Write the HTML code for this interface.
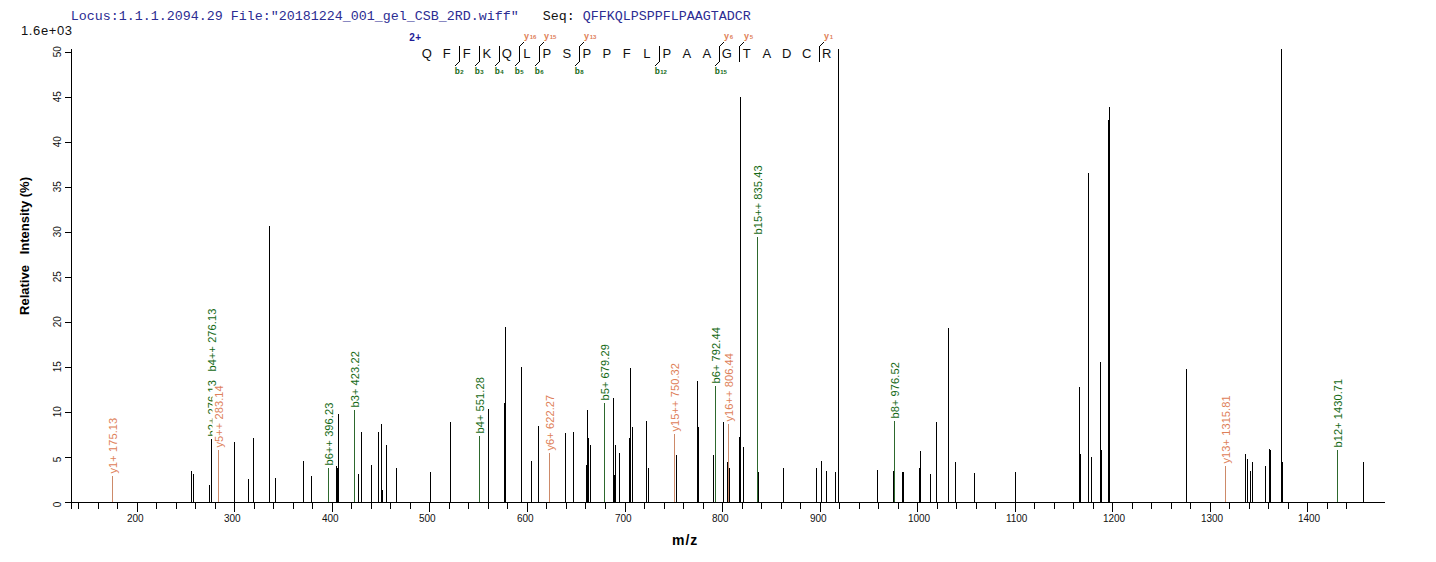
<!DOCTYPE html><html><head><meta charset="utf-8"><style>html,body{margin:0;padding:0;background:#fff;}svg{display:block;}text{font-family:"Liberation Sans",sans-serif;}</style></head><body>
<svg width="1436" height="562" viewBox="0 0 1436 562">
<rect x="0" y="0" width="1436" height="562" fill="#fff"/>
<text x="70.8" y="20" style="font-family:'Liberation Mono',monospace;font-size:13.33px" fill="rgb(44,44,146)" xml:space="preserve">Locus:1.1.1.2094.29 File:"20181224_001_gel_CSB_2RD.wiff"   <tspan fill="#111">Seq:</tspan> QFFKQLPSPPFLPAAGTADCR</text>
<text x="21" y="35" font-size="13" fill="#111" textLength="51" lengthAdjust="spacing">1.6e+03</text>
<g shape-rendering="crispEdges" fill="#000">
<rect x="71" y="49" width="1" height="460"/>
<rect x="65" y="502" width="1320" height="1"/>
<rect x="65" y="52" width="6" height="1"/>
<rect x="65" y="97" width="6" height="1"/>
<rect x="65" y="142" width="6" height="1"/>
<rect x="65" y="187" width="6" height="1"/>
<rect x="65" y="232" width="6" height="1"/>
<rect x="65" y="277" width="6" height="1"/>
<rect x="65" y="322" width="6" height="1"/>
<rect x="65" y="367" width="6" height="1"/>
<rect x="65" y="412" width="6" height="1"/>
<rect x="65" y="457" width="6" height="1"/>
<rect x="65" y="502" width="6" height="1"/>
<rect x="78" y="503" width="1" height="6"/>
<rect x="98" y="503" width="1" height="6"/>
<rect x="117" y="503" width="1" height="6"/>
<rect x="137" y="503" width="1" height="9"/>
<rect x="156" y="503" width="1" height="6"/>
<rect x="176" y="503" width="1" height="6"/>
<rect x="195" y="503" width="1" height="6"/>
<rect x="215" y="503" width="1" height="6"/>
<rect x="234" y="503" width="1" height="9"/>
<rect x="254" y="503" width="1" height="6"/>
<rect x="273" y="503" width="1" height="6"/>
<rect x="293" y="503" width="1" height="6"/>
<rect x="312" y="503" width="1" height="6"/>
<rect x="332" y="503" width="1" height="9"/>
<rect x="351" y="503" width="1" height="6"/>
<rect x="371" y="503" width="1" height="6"/>
<rect x="390" y="503" width="1" height="6"/>
<rect x="410" y="503" width="1" height="6"/>
<rect x="429" y="503" width="1" height="9"/>
<rect x="449" y="503" width="1" height="6"/>
<rect x="468" y="503" width="1" height="6"/>
<rect x="488" y="503" width="1" height="6"/>
<rect x="507" y="503" width="1" height="6"/>
<rect x="527" y="503" width="1" height="9"/>
<rect x="546" y="503" width="1" height="6"/>
<rect x="566" y="503" width="1" height="6"/>
<rect x="585" y="503" width="1" height="6"/>
<rect x="605" y="503" width="1" height="6"/>
<rect x="625" y="503" width="1" height="9"/>
<rect x="644" y="503" width="1" height="6"/>
<rect x="664" y="503" width="1" height="6"/>
<rect x="683" y="503" width="1" height="6"/>
<rect x="703" y="503" width="1" height="6"/>
<rect x="722" y="503" width="1" height="9"/>
<rect x="742" y="503" width="1" height="6"/>
<rect x="761" y="503" width="1" height="6"/>
<rect x="781" y="503" width="1" height="6"/>
<rect x="800" y="503" width="1" height="6"/>
<rect x="820" y="503" width="1" height="9"/>
<rect x="839" y="503" width="1" height="6"/>
<rect x="859" y="503" width="1" height="6"/>
<rect x="878" y="503" width="1" height="6"/>
<rect x="898" y="503" width="1" height="6"/>
<rect x="917" y="503" width="1" height="9"/>
<rect x="937" y="503" width="1" height="6"/>
<rect x="956" y="503" width="1" height="6"/>
<rect x="976" y="503" width="1" height="6"/>
<rect x="995" y="503" width="1" height="6"/>
<rect x="1015" y="503" width="1" height="9"/>
<rect x="1034" y="503" width="1" height="6"/>
<rect x="1054" y="503" width="1" height="6"/>
<rect x="1073" y="503" width="1" height="6"/>
<rect x="1093" y="503" width="1" height="6"/>
<rect x="1112" y="503" width="1" height="9"/>
<rect x="1132" y="503" width="1" height="6"/>
<rect x="1151" y="503" width="1" height="6"/>
<rect x="1171" y="503" width="1" height="6"/>
<rect x="1190" y="503" width="1" height="6"/>
<rect x="1210" y="503" width="1" height="9"/>
<rect x="1229" y="503" width="1" height="6"/>
<rect x="1249" y="503" width="1" height="6"/>
<rect x="1268" y="503" width="1" height="6"/>
<rect x="1288" y="503" width="1" height="6"/>
<rect x="1307" y="503" width="1" height="9"/>
<rect x="1327" y="503" width="1" height="6"/>
<rect x="1346" y="503" width="1" height="6"/>
</g>
<text transform="translate(61,57.2) rotate(-90)" font-size="10" fill="#111">50</text>
<text transform="translate(61,102.2) rotate(-90)" font-size="10" fill="#111">45</text>
<text transform="translate(61,147.2) rotate(-90)" font-size="10" fill="#111">40</text>
<text transform="translate(61,192.2) rotate(-90)" font-size="10" fill="#111">35</text>
<text transform="translate(61,237.2) rotate(-90)" font-size="10" fill="#111">30</text>
<text transform="translate(61,282.2) rotate(-90)" font-size="10" fill="#111">25</text>
<text transform="translate(61,327.2) rotate(-90)" font-size="10" fill="#111">20</text>
<text transform="translate(61,372.2) rotate(-90)" font-size="10" fill="#111">15</text>
<text transform="translate(61,417.2) rotate(-90)" font-size="10" fill="#111">10</text>
<text transform="translate(61,462.2) rotate(-90)" font-size="10" fill="#111">5</text>
<text transform="translate(61,507.2) rotate(-90)" font-size="10" fill="#111">0</text>
<text x="126.9" y="522" font-size="10" fill="#111">200</text>
<text x="223.9" y="522" font-size="10" fill="#111">300</text>
<text x="321.9" y="522" font-size="10" fill="#111">400</text>
<text x="418.9" y="522" font-size="10" fill="#111">500</text>
<text x="516.9" y="522" font-size="10" fill="#111">600</text>
<text x="614.9" y="522" font-size="10" fill="#111">700</text>
<text x="711.9" y="522" font-size="10" fill="#111">800</text>
<text x="809.9" y="522" font-size="10" fill="#111">900</text>
<text x="907.9" y="522" font-size="10" fill="#111">1000</text>
<text x="1005.9" y="522" font-size="10" fill="#111">1100</text>
<text x="1102.9" y="522" font-size="10" fill="#111">1200</text>
<text x="1200.9" y="522" font-size="10" fill="#111">1300</text>
<text x="1297.9" y="522" font-size="10" fill="#111">1400</text>
<text transform="translate(28.5,246) rotate(-90)" font-size="13" font-weight="bold" text-anchor="middle" fill="#000" xml:space="preserve">Relative   Intensity (%)</text>
<text x="672" y="545" font-size="14" font-weight="bold" letter-spacing="1" fill="#000">m/z</text>
<g shape-rendering="crispEdges">
<rect x="191" y="471" width="1" height="31" fill="#000"/>
<rect x="193" y="474" width="1" height="28" fill="#000"/>
<rect x="209" y="485" width="1" height="17" fill="#000"/>
<rect x="211" y="439" width="1" height="63" fill="#000"/>
<rect x="234" y="442" width="1" height="60" fill="#000"/>
<rect x="248" y="479" width="1" height="23" fill="#000"/>
<rect x="253" y="438" width="1" height="64" fill="#000"/>
<rect x="269" y="226" width="1" height="276" fill="#000"/>
<rect x="275" y="478" width="1" height="24" fill="#000"/>
<rect x="303" y="461" width="1" height="41" fill="#000"/>
<rect x="311" y="476" width="1" height="26" fill="#000"/>
<rect x="336" y="466" width="1" height="36" fill="#000"/>
<rect x="337" y="468" width="1" height="34" fill="#000"/>
<rect x="338" y="414" width="1" height="88" fill="#000"/>
<rect x="358" y="474" width="1" height="28" fill="#000"/>
<rect x="361" y="432" width="1" height="70" fill="#000"/>
<rect x="371" y="465" width="1" height="37" fill="#000"/>
<rect x="378" y="432" width="1" height="70" fill="#000"/>
<rect x="381" y="424" width="1" height="78" fill="#000"/>
<rect x="382" y="490" width="1" height="12" fill="#000"/>
<rect x="386" y="445" width="1" height="57" fill="#000"/>
<rect x="396" y="468" width="1" height="34" fill="#000"/>
<rect x="430" y="472" width="1" height="30" fill="#000"/>
<rect x="450" y="422" width="1" height="80" fill="#000"/>
<rect x="488" y="409" width="1" height="93" fill="#000"/>
<rect x="504" y="403" width="1" height="99" fill="#000"/>
<rect x="505" y="327" width="1" height="175" fill="#000"/>
<rect x="521" y="367" width="1" height="135" fill="#000"/>
<rect x="531" y="461" width="1" height="41" fill="#000"/>
<rect x="538" y="426" width="1" height="76" fill="#000"/>
<rect x="565" y="433" width="1" height="69" fill="#000"/>
<rect x="573" y="432" width="1" height="70" fill="#000"/>
<rect x="586" y="465" width="1" height="37" fill="#000"/>
<rect x="587" y="410" width="1" height="92" fill="#000"/>
<rect x="588" y="438" width="1" height="64" fill="#000"/>
<rect x="590" y="445" width="1" height="57" fill="#000"/>
<rect x="613" y="398" width="1" height="104" fill="#000"/>
<rect x="614" y="475" width="1" height="27" fill="#000"/>
<rect x="615" y="445" width="1" height="57" fill="#000"/>
<rect x="619" y="453" width="1" height="49" fill="#000"/>
<rect x="629" y="438" width="1" height="64" fill="#000"/>
<rect x="630" y="368" width="1" height="134" fill="#000"/>
<rect x="632" y="427" width="1" height="75" fill="#000"/>
<rect x="646" y="421" width="1" height="81" fill="#000"/>
<rect x="648" y="468" width="1" height="34" fill="#000"/>
<rect x="676" y="455" width="1" height="47" fill="#000"/>
<rect x="697" y="381" width="1" height="121" fill="#000"/>
<rect x="698" y="427" width="1" height="75" fill="#000"/>
<rect x="713" y="455" width="1" height="47" fill="#000"/>
<rect x="723" y="422" width="1" height="80" fill="#000"/>
<rect x="727" y="462" width="1" height="40" fill="#000"/>
<rect x="729" y="468" width="1" height="34" fill="#000"/>
<rect x="739" y="437" width="1" height="65" fill="#000"/>
<rect x="740" y="97" width="1" height="405" fill="#000"/>
<rect x="743" y="447" width="1" height="55" fill="#000"/>
<rect x="758" y="472" width="1" height="30" fill="#000"/>
<rect x="783" y="468" width="1" height="34" fill="#000"/>
<rect x="816" y="468" width="1" height="34" fill="#000"/>
<rect x="821" y="461" width="1" height="41" fill="#000"/>
<rect x="826" y="471" width="1" height="31" fill="#000"/>
<rect x="835" y="472" width="1" height="30" fill="#000"/>
<rect x="838" y="49" width="1" height="453" fill="#000"/>
<rect x="877" y="470" width="1" height="32" fill="#000"/>
<rect x="893" y="471" width="1" height="31" fill="#000"/>
<rect x="902" y="472" width="1" height="30" fill="#000"/>
<rect x="903" y="472" width="1" height="30" fill="#000"/>
<rect x="919" y="468" width="1" height="34" fill="#000"/>
<rect x="920" y="451" width="1" height="51" fill="#000"/>
<rect x="930" y="474" width="1" height="28" fill="#000"/>
<rect x="936" y="422" width="1" height="80" fill="#000"/>
<rect x="948" y="328" width="1" height="174" fill="#000"/>
<rect x="955" y="462" width="1" height="40" fill="#000"/>
<rect x="974" y="473" width="1" height="29" fill="#000"/>
<rect x="1015" y="472" width="1" height="30" fill="#000"/>
<rect x="1079" y="387" width="1" height="115" fill="#000"/>
<rect x="1080" y="454" width="1" height="48" fill="#000"/>
<rect x="1088" y="173" width="1" height="329" fill="#000"/>
<rect x="1091" y="457" width="1" height="45" fill="#000"/>
<rect x="1100" y="362" width="1" height="140" fill="#000"/>
<rect x="1101" y="450" width="1" height="52" fill="#000"/>
<rect x="1108" y="120" width="1" height="382" fill="#000"/>
<rect x="1109" y="107" width="1" height="395" fill="#000"/>
<rect x="1186" y="369" width="1" height="133" fill="#000"/>
<rect x="1245" y="454" width="1" height="48" fill="#000"/>
<rect x="1247" y="459" width="1" height="43" fill="#000"/>
<rect x="1250" y="471" width="1" height="31" fill="#000"/>
<rect x="1252" y="462" width="1" height="40" fill="#000"/>
<rect x="1265" y="466" width="1" height="36" fill="#000"/>
<rect x="1269" y="449" width="1" height="53" fill="#000"/>
<rect x="1270" y="450" width="1" height="52" fill="#000"/>
<rect x="1281" y="49" width="1" height="453" fill="#000"/>
<rect x="1282" y="462" width="1" height="40" fill="#000"/>
<rect x="1363" y="462" width="1" height="40" fill="#000"/>
<rect x="328" y="468" width="1" height="34" fill="rgb(45,104,45)"/>
<rect x="354" y="410" width="1" height="92" fill="rgb(45,104,45)"/>
<rect x="479" y="436" width="1" height="66" fill="rgb(45,104,45)"/>
<rect x="604" y="403" width="1" height="99" fill="rgb(45,104,45)"/>
<rect x="715" y="386" width="1" height="116" fill="rgb(45,104,45)"/>
<rect x="757" y="237" width="1" height="265" fill="rgb(45,104,45)"/>
<rect x="894" y="421" width="1" height="81" fill="rgb(45,104,45)"/>
<rect x="1337" y="450" width="1" height="52" fill="rgb(45,104,45)"/>
<rect x="112" y="476" width="1" height="26" fill="rgb(205,138,105)"/>
<rect x="218" y="450" width="1" height="52" fill="rgb(205,138,105)"/>
<rect x="549" y="453" width="1" height="49" fill="rgb(205,138,105)"/>
<rect x="674" y="434" width="1" height="68" fill="rgb(205,138,105)"/>
<rect x="728" y="424" width="1" height="78" fill="rgb(205,138,105)"/>
<rect x="1225" y="466" width="1" height="36" fill="rgb(205,138,105)"/>
</g>
<g transform="translate(116.5,473.5) rotate(-90)"><rect x="0" y="-10" width="54.7" height="12.3" fill="#fff"/><text x="0" y="0" font-size="11" letter-spacing="0.1" fill="rgb(222,128,88)" xml:space="preserve">y1+ 175.13</text></g>
<g transform="translate(215.5,436.5) rotate(-90)"><rect x="0" y="-10" width="55.4" height="12.3" fill="#fff"/><text x="0" y="0" font-size="11" letter-spacing="0.1" fill="rgb(20,105,20)" xml:space="preserve">b2+ 276.13</text></g>
<g transform="translate(215.5,371.5) rotate(-90)"><rect x="0" y="-10" width="61.8" height="12.3" fill="#fff"/><text x="0" y="0" font-size="11" letter-spacing="0.1" fill="rgb(20,105,20)" xml:space="preserve">b4++ 276.13</text></g>
<g transform="translate(222.5,447.5) rotate(-90)"><rect x="0" y="-10" width="61.2" height="12.3" fill="#fff"/><text x="0" y="0" font-size="11" letter-spacing="0.1" fill="rgb(222,128,88)" xml:space="preserve">y5++ 283.14</text></g>
<g transform="translate(332.5,465.5) rotate(-90)"><rect x="0" y="-10" width="61.8" height="12.3" fill="#fff"/><text x="0" y="0" font-size="11" letter-spacing="0.1" fill="rgb(20,105,20)" xml:space="preserve">b6++ 396.23</text></g>
<g transform="translate(358.5,407.5) rotate(-90)"><rect x="0" y="-10" width="55.4" height="12.3" fill="#fff"/><text x="0" y="0" font-size="11" letter-spacing="0.1" fill="rgb(20,105,20)" xml:space="preserve">b3+ 423.22</text></g>
<g transform="translate(483.5,433.5) rotate(-90)"><rect x="0" y="-10" width="55.4" height="12.3" fill="#fff"/><text x="0" y="0" font-size="11" letter-spacing="0.1" fill="rgb(20,105,20)" xml:space="preserve">b4+ 551.28</text></g>
<g transform="translate(553.5,450.5) rotate(-90)"><rect x="0" y="-10" width="54.7" height="12.3" fill="#fff"/><text x="0" y="0" font-size="11" letter-spacing="0.1" fill="rgb(222,128,88)" xml:space="preserve">y6+ 622.27</text></g>
<g transform="translate(608.5,400.5) rotate(-90)"><rect x="0" y="-10" width="55.4" height="12.3" fill="#fff"/><text x="0" y="0" font-size="11" letter-spacing="0.1" fill="rgb(20,105,20)" xml:space="preserve">b5+ 679.29</text></g>
<g transform="translate(678.5,431.5) rotate(-90)"><rect x="0" y="-10" width="67.3" height="12.3" fill="#fff"/><text x="0" y="0" font-size="11" letter-spacing="0.1" fill="rgb(222,128,88)" xml:space="preserve">y15++ 750.32</text></g>
<g transform="translate(719.5,383.5) rotate(-90)"><rect x="0" y="-10" width="55.4" height="12.3" fill="#fff"/><text x="0" y="0" font-size="11" letter-spacing="0.1" fill="rgb(20,105,20)" xml:space="preserve">b6+ 792.44</text></g>
<g transform="translate(732.5,421.5) rotate(-90)"><rect x="0" y="-10" width="67.3" height="12.3" fill="#fff"/><text x="0" y="0" font-size="11" letter-spacing="0.1" fill="rgb(222,128,88)" xml:space="preserve">y16++ 806.44</text></g>
<g transform="translate(761.5,234.5) rotate(-90)"><rect x="0" y="-10" width="67.9" height="12.3" fill="#fff"/><text x="0" y="0" font-size="11" letter-spacing="0.1" fill="rgb(20,105,20)" xml:space="preserve">b15++ 835.43</text></g>
<g transform="translate(898.5,418.5) rotate(-90)"><rect x="0" y="-10" width="55.4" height="12.3" fill="#fff"/><text x="0" y="0" font-size="11" letter-spacing="0.1" fill="rgb(20,105,20)" xml:space="preserve">b8+ 976.52</text></g>
<g transform="translate(1229.5,463.5) rotate(-90)"><rect x="0" y="-10" width="67.0" height="12.3" fill="#fff"/><text x="0" y="0" font-size="11" letter-spacing="0.1" fill="rgb(222,128,88)" xml:space="preserve">y13+ 1315.81</text></g>
<g transform="translate(1341.5,447.5) rotate(-90)"><rect x="0" y="-10" width="67.6" height="12.3" fill="#fff"/><text x="0" y="0" font-size="11" letter-spacing="0.1" fill="rgb(20,105,20)" xml:space="preserve">b12+ 1430.71</text></g>
<text x="409.2" y="41" font-size="10" font-weight="bold" letter-spacing="0.4" fill="rgb(32,26,150)">2+</text>
<text x="426.8" y="58" font-size="13" text-anchor="middle" fill="#111">Q</text>
<text x="446.8" y="58" font-size="13" text-anchor="middle" fill="#111">F</text>
<text x="466.8" y="58" font-size="13" text-anchor="middle" fill="#111">F</text>
<text x="486.8" y="58" font-size="13" text-anchor="middle" fill="#111">K</text>
<text x="506.8" y="58" font-size="13" text-anchor="middle" fill="#111">Q</text>
<text x="526.8" y="58" font-size="13" text-anchor="middle" fill="#111">L</text>
<text x="546.8" y="58" font-size="13" text-anchor="middle" fill="#111">P</text>
<text x="566.8" y="58" font-size="13" text-anchor="middle" fill="#111">S</text>
<text x="586.8" y="58" font-size="13" text-anchor="middle" fill="#111">P</text>
<text x="606.8" y="58" font-size="13" text-anchor="middle" fill="#111">P</text>
<text x="626.8" y="58" font-size="13" text-anchor="middle" fill="#111">F</text>
<text x="646.8" y="58" font-size="13" text-anchor="middle" fill="#111">L</text>
<text x="666.8" y="58" font-size="13" text-anchor="middle" fill="#111">P</text>
<text x="686.8" y="58" font-size="13" text-anchor="middle" fill="#111">A</text>
<text x="706.8" y="58" font-size="13" text-anchor="middle" fill="#111">A</text>
<text x="726.8" y="58" font-size="13" text-anchor="middle" fill="#111">G</text>
<text x="746.8" y="58" font-size="13" text-anchor="middle" fill="#111">T</text>
<text x="766.8" y="58" font-size="13" text-anchor="middle" fill="#111">A</text>
<text x="786.8" y="58" font-size="13" text-anchor="middle" fill="#111">D</text>
<text x="806.8" y="58" font-size="13" text-anchor="middle" fill="#111">C</text>
<text x="826.8" y="58" font-size="13" text-anchor="middle" fill="#111">R</text>
<g stroke="#000" stroke-width="1" fill="none">
<line x1="459.5" y1="46" x2="459.5" y2="62"/>
<line x1="459.5" y1="61.5" x2="455.0" y2="66"/>
<line x1="479.5" y1="46" x2="479.5" y2="62"/>
<line x1="479.5" y1="61.5" x2="475.0" y2="66"/>
<line x1="499.5" y1="46" x2="499.5" y2="62"/>
<line x1="499.5" y1="61.5" x2="495.0" y2="66"/>
<line x1="519.5" y1="46" x2="519.5" y2="62"/>
<line x1="519.5" y1="61.5" x2="515.0" y2="66"/>
<line x1="519.5" y1="46.5" x2="524.0" y2="42"/>
<line x1="539.5" y1="46" x2="539.5" y2="62"/>
<line x1="539.5" y1="61.5" x2="535.0" y2="66"/>
<line x1="539.5" y1="46.5" x2="544.0" y2="42"/>
<line x1="579.5" y1="46" x2="579.5" y2="62"/>
<line x1="579.5" y1="61.5" x2="575.0" y2="66"/>
<line x1="579.5" y1="46.5" x2="584.0" y2="42"/>
<line x1="659.5" y1="46" x2="659.5" y2="62"/>
<line x1="659.5" y1="61.5" x2="655.0" y2="66"/>
<line x1="719.5" y1="46" x2="719.5" y2="62"/>
<line x1="719.5" y1="61.5" x2="715.0" y2="66"/>
<line x1="719.5" y1="46.5" x2="724.0" y2="42"/>
<line x1="739.5" y1="46" x2="739.5" y2="62"/>
<line x1="739.5" y1="46.5" x2="744.0" y2="42"/>
<line x1="819.5" y1="46" x2="819.5" y2="62"/>
<line x1="819.5" y1="46.5" x2="824.0" y2="42"/>
</g>
<text x="454.7" y="74" font-size="8.3" font-weight="bold" fill="rgb(20,105,20)">b<tspan font-size="6" dx="0.5">2</tspan></text>
<text x="474.7" y="74" font-size="8.3" font-weight="bold" fill="rgb(20,105,20)">b<tspan font-size="6" dx="0.5">3</tspan></text>
<text x="494.7" y="74" font-size="8.3" font-weight="bold" fill="rgb(20,105,20)">b<tspan font-size="6" dx="0.5">4</tspan></text>
<text x="514.7" y="74" font-size="8.3" font-weight="bold" fill="rgb(20,105,20)">b<tspan font-size="6" dx="0.5">5</tspan></text>
<text x="524.0" y="39" font-size="9" font-weight="bold" fill="rgb(222,128,88)">y<tspan font-size="6" dx="0.7">16</tspan></text>
<text x="534.7" y="74" font-size="8.3" font-weight="bold" fill="rgb(20,105,20)">b<tspan font-size="6" dx="0.5">6</tspan></text>
<text x="544.0" y="39" font-size="9" font-weight="bold" fill="rgb(222,128,88)">y<tspan font-size="6" dx="0.7">15</tspan></text>
<text x="574.7" y="74" font-size="8.3" font-weight="bold" fill="rgb(20,105,20)">b<tspan font-size="6" dx="0.5">8</tspan></text>
<text x="584.0" y="39" font-size="9" font-weight="bold" fill="rgb(222,128,88)">y<tspan font-size="6" dx="0.7">13</tspan></text>
<text x="654.7" y="74" font-size="8.3" font-weight="bold" fill="rgb(20,105,20)">b<tspan font-size="6" dx="0.5">12</tspan></text>
<text x="714.7" y="74" font-size="8.3" font-weight="bold" fill="rgb(20,105,20)">b<tspan font-size="6" dx="0.5">15</tspan></text>
<text x="724.0" y="39" font-size="9" font-weight="bold" fill="rgb(222,128,88)">y<tspan font-size="6" dx="0.7">6</tspan></text>
<text x="744.0" y="39" font-size="9" font-weight="bold" fill="rgb(222,128,88)">y<tspan font-size="6" dx="0.7">5</tspan></text>
<text x="824.0" y="39" font-size="9" font-weight="bold" fill="rgb(222,128,88)">y<tspan font-size="6" dx="0.7">1</tspan></text>
</svg></body></html>
